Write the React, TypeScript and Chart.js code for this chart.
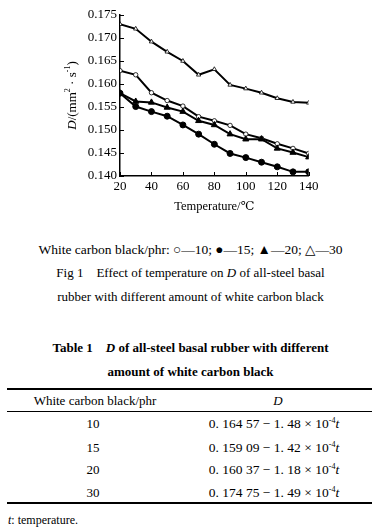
import React, { useEffect, useRef } from "react";
import { Chart, registerables } from "chart.js";

Chart.register(...registerables);

// ---- data ----
const temperatures = [20, 30, 40, 50, 60, 70, 80, 90, 100, 110, 120, 130, 140];
const d10 = [0.1629, 0.162, 0.1581, 0.1564, 0.1552, 0.1529, 0.152, 0.151, 0.1491, 0.1482, 0.147, 0.146, 0.1449];
const d15 = [0.158, 0.1551, 0.154, 0.153, 0.1511, 0.1491, 0.1469, 0.1449, 0.144, 0.143, 0.142, 0.1409, 0.1409];
const d20 = [0.158, 0.1562, 0.156, 0.1549, 0.154, 0.152, 0.1511, 0.1491, 0.148, 0.148, 0.146, 0.1451, 0.1441];
const d30 = [0.173, 0.172, 0.1692, 0.167, 0.165, 0.162, 0.1632, 0.1598, 0.159, 0.1581, 0.1569, 0.1561, 0.1559];

const tablePhr = ["10", "15", "20", "30"];
const tableIntercept = ["0. 164 57", "0. 159 09", "0. 160 37", "0. 174 75"];
const tableSlope = ["1. 48", "1. 42", "1. 18", "1. 49"];

const SERIF = '"Liberation Serif", "DejaVu Serif", "Times New Roman", serif';

const toPoints = (ys: number[]) => temperatures.map((t, i) => ({ x: t, y: ys[i] }));

const inwardTicks = {
  id: "inwardTicks",
  afterDraw(chart: any) {
    const { ctx, chartArea, scales } = chart;
    const x = scales.x;
    const y = scales.y;
    ctx.save();
    ctx.strokeStyle = "#000";
    ctx.lineWidth = 1;
    x.ticks.forEach((t: any) => {
      const px = Math.round(x.getPixelForValue(t.value)) + 0.5;
      ctx.beginPath();
      ctx.moveTo(px, chartArea.bottom);
      ctx.lineTo(px, chartArea.bottom - 4);
      ctx.stroke();
    });
    y.ticks.forEach((t: any) => {
      const py = Math.round(y.getPixelForValue(t.value)) + 0.5;
      ctx.beginPath();
      ctx.moveTo(chartArea.left, py);
      ctx.lineTo(chartArea.left + 4, py);
      ctx.stroke();
    });
    ctx.restore();
  },
};

const yTitle = {
  id: "yTitle",
  afterDraw(chart: any) {
    const { ctx, chartArea } = chart;
    const parts: { t: string; f: string; dy: number }[] = [
      { t: "D", f: `italic 13px ${SERIF}`, dy: 0 },
      { t: "/(mm", f: `13px ${SERIF}`, dy: 0 },
      { t: "2", f: `8px ${SERIF}`, dy: -5 },
      { t: " · s", f: `13px ${SERIF}`, dy: 0 },
      { t: "-1", f: `8px ${SERIF}`, dy: -5 },
      { t: ")", f: `13px ${SERIF}`, dy: 0 },
    ];
    ctx.save();
    let total = 0;
    parts.forEach((p) => {
      ctx.font = p.f;
      total += ctx.measureText(p.t).width;
    });
    const cy = (chartArea.top + chartArea.bottom) / 2;
    ctx.translate(chartArea.left - 47, cy);
    ctx.rotate(-Math.PI / 2);
    ctx.fillStyle = "#000";
    ctx.textBaseline = "middle";
    let xpos = -total / 2;
    parts.forEach((p) => {
      ctx.font = p.f;
      ctx.fillText(p.t, xpos, p.dy);
      xpos += ctx.measureText(p.t).width;
    });
    ctx.restore();
  },
};

function ChartCanvas() {
  const ref = useRef<HTMLCanvasElement | null>(null);
  useEffect(() => {
    if (!ref.current) return;
    const chart = new Chart(ref.current, {
      type: "line",
      data: {
        datasets: [
          {
            label: "15",
            data: toPoints(d15),
            borderColor: "#000",
            borderWidth: 2,
            pointStyle: "circle",
            pointRadius: 3,
            pointBackgroundColor: "#000",
            pointBorderColor: "#000",
            pointBorderWidth: 1,
          },
          {
            label: "20",
            data: toPoints(d20),
            borderColor: "#000",
            borderWidth: 2,
            pointStyle: "triangle",
            pointRadius: 3.5,
            pointBackgroundColor: "#000",
            pointBorderColor: "#000",
            pointBorderWidth: 1,
          },
          {
            label: "10",
            data: toPoints(d10),
            borderColor: "#000",
            borderWidth: 2,
            pointStyle: "circle",
            pointRadius: 2.2,
            pointBackgroundColor: "#fff",
            pointBorderColor: "#000",
            pointBorderWidth: 0.8,
          },
          {
            label: "30",
            data: toPoints(d30),
            borderColor: "#000",
            borderWidth: 2,
            pointStyle: "triangle",
            pointRadius: 2.5,
            pointBackgroundColor: "#fff",
            pointBorderColor: "#000",
            pointBorderWidth: 0.8,
          },
        ],
      },
      options: {
        animation: false,
        responsive: false,
        events: [],
        layout: { padding: { top: 15, right: 72.3, left: 0, bottom: 9 } },
        plugins: { legend: { display: false }, tooltip: { enabled: false } },
        scales: {
          x: {
            type: "linear",
            min: 20,
            max: 140,
            afterFit: (s: any) => {
              s.height = 40;
            },
            ticks: {
              stepSize: 20,
              color: "#000",
              padding: 3,
              font: { family: SERIF, size: 13 },
              maxRotation: 0,
            },
            grid: { drawOnChartArea: false, drawTicks: false },
            border: { display: true, color: "#000", width: 1.5 },
            title: {
              display: true,
              text: "Temperature/℃",
              color: "#000",
              font: { family: SERIF, size: 12.5 },
              padding: { top: 0, bottom: 2 },
            },
          },
          y: {
            type: "linear",
            min: 0.14,
            max: 0.175,
            afterFit: (s: any) => {
              s.width = 120;
            },
            ticks: {
              stepSize: 0.005,
              color: "#000",
              padding: 3,
              font: { family: SERIF, size: 13 },
              callback: (v: any) => Number(v).toFixed(3),
            },
            grid: { drawOnChartArea: false, drawTicks: false },
            border: { display: true, color: "#000", width: 1.5 },
          },
        },
      },
      plugins: [inwardTicks, yTitle],
    } as any);
    return () => chart.destroy();
  }, []);
  return <canvas ref={ref} width={381} height={225} style={{ position: "absolute", left: 0, top: 0, width: 381, height: 225 }} />;
}

const line = (cy: number, content: React.ReactNode, extra: React.CSSProperties = {}) => (
  <div
    style={{
      position: "absolute",
      left: 0,
      width: 381,
      top: cy - 9,
      height: 18,
      lineHeight: "18px",
      textAlign: "center",
      whiteSpace: "nowrap",
      ...extra,
    }}
  >
    {content}
  </div>
);

const rowY = [424, 447.5, 470, 492.5];

export default function App() {
  return (
    <div
      style={{
        position: "absolute",
        left: 0,
        top: 0,
        width: 381,
        height: 529,
        background: "#fff",
        color: "#000",
        fontFamily: SERIF,
        fontSize: 13,
        overflow: "hidden",
      }}
    >
      <ChartCanvas />
      {line(250, <span>White carbon black/phr: ○—10; ●—15; ▲—20; △—30</span>, { fontSize: 13.5 })}
      {line(
        273,
        <span>
          Fig 1&nbsp;&nbsp;&nbsp; Effect of temperature on <i>D</i> of all-steel basal
        </span>,
        { fontSize: 13 }
      )}
      {line(297, <span>rubber with different amount of white carbon black</span>, { fontSize: 13 })}
      {line(
        348,
        <span>
          Table 1&nbsp;&nbsp;&nbsp; <i>D</i> of all-steel basal rubber with different
        </span>,
        { fontWeight: "bold", fontSize: 13 }
      )}
      {line(372, <span>amount of white carbon black</span>, { fontWeight: "bold", fontSize: 13 })}

      <div style={{ position: "absolute", left: 7, width: 365, top: 388, height: 0, borderTop: "2px solid #000" }} />
      <div style={{ position: "absolute", left: 7, width: 365, top: 411, height: 0, borderTop: "1px solid #000" }} />
      <div style={{ position: "absolute", left: 7, width: 365, top: 502, height: 0, borderTop: "2px solid #000" }} />

      <div style={{ position: "absolute", left: 15, width: 160, top: 391.5, height: 18, lineHeight: "18px", textAlign: "center" }}>
        White carbon black/phr
      </div>
      <div style={{ position: "absolute", left: 198, width: 160, top: 391.5, height: 18, lineHeight: "18px", textAlign: "center" }}>
        <i>D</i>
      </div>
      {tablePhr.map((p, i) => (
        <div
          key={"p" + p}
          style={{ position: "absolute", left: 13, width: 160, top: rowY[i] - 9, height: 18, lineHeight: "18px", textAlign: "center" }}
        >
          {p}
        </div>
      ))}
      {tablePhr.map((p, i) => (
        <div
          key={"e" + p}
          style={{ position: "absolute", left: 194, width: 160, top: rowY[i] - 9, height: 18, lineHeight: "18px", textAlign: "center", whiteSpace: "nowrap", fontSize: 13.5 }}
        >
          {tableIntercept[i]} − {tableSlope[i]} × 10
          <sup style={{ fontSize: 8, verticalAlign: "5px", lineHeight: 0 }}>-4</sup>
          <i>t</i>
        </div>
      ))}
      <div style={{ position: "absolute", left: 8, top: 511, height: 18, lineHeight: "18px", fontSize: 12, whiteSpace: "nowrap" }}>
        <i>t</i>: temperature.
      </div>
    </div>
  );
}
